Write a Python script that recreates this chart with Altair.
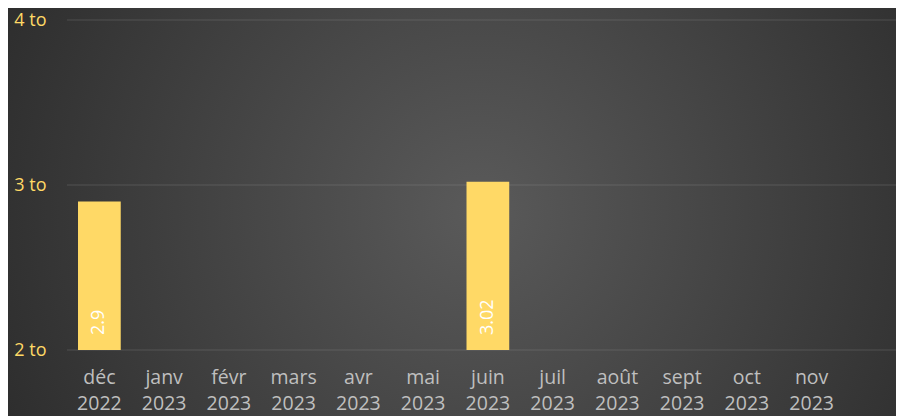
import altair as alt
import pandas as pd

months = ["déc 2022", "janv 2023", "févr 2023", "mars 2023", "avr 2023", "mai 2023",
          "juin 2023", "juil 2023", "août 2023", "sept 2023", "oct 2023", "nov 2023"]
values = [2.9, None, None, None, None, None, 3.02, None, None, None, None, None]
y_ticks = [2, 3, 4]

df = pd.DataFrame({"mois": months, "valeur": values})
bars_df = df.dropna().copy()
bars_df["label"] = bars_df["valeur"].map(lambda v: f"{v:g}")
grid_df = pd.DataFrame({"valeur": y_ticks})

FONT = "Open Sans"
W, H = 829, 330

bg = alt.Chart(pd.DataFrame({"a": [0]})).mark_rect(
    fill={
        "gradient": "radial",
        "x1": 0.53, "y1": 0.5, "r1": 0,
        "x2": 0.53, "y2": 0.5, "r2": 0.72,
        "stops": [
            {"offset": 0, "color": "#5a5a5a"},
            {"offset": 1, "color": "#232323"},
        ],
    }
).encode(
    x=alt.value(-59), x2=alt.value(W), y=alt.value(-12), y2=alt.value(396)
)

yscale = alt.Scale(domain=[2, 4], zero=False, nice=False)
yaxis = alt.Axis(
    title=None, values=y_ticks, domain=False, ticks=False, grid=False,
    labelExpr="datum.value + ' to'",
    labelFont=FONT, labelFontSize=18, labelColor="#FFD966",
    labelPadding=21, zindex=1,
)
yenc = alt.Y("valeur:Q", scale=yscale, axis=yaxis)

grid = alt.Chart(grid_df).mark_rule(color="#a0a0a0", opacity=0.25, strokeWidth=1).encode(
    y=yenc,
    x=alt.value(0), x2=alt.value(W),
)

xenc = alt.X(
    "mois:N",
    sort=months,
    scale=alt.Scale(domain=months, range=[0, 777], paddingInner=0.34, paddingOuter=0.17),
    axis=alt.Axis(
        title=None, labelAngle=0, domain=False, ticks=False, grid=False,
        labelExpr="split(datum.label, ' ')",
        labelFont=FONT, labelFontSize=19.5, labelColor="#BFBFBF",
        labelPadding=18, labelLineHeight=26, labelBaseline="top", zindex=1,
    ),
)

axes_layer = alt.Chart(df).mark_bar(opacity=0).encode(x=xenc, y=yenc)

bars = alt.Chart(bars_df).mark_bar(color="#FFD966").encode(
    x=alt.X("mois:N", sort=months, scale=alt.Scale(domain=months)),
    y=yenc,
    y2=alt.datum(2),
)

labels = alt.Chart(bars_df).mark_text(
    angle=270, align="left", baseline="middle", dx=15,
    font=FONT, fontSize=18, color="#FFFFFF",
).encode(
    x=alt.X("mois:N", sort=months, scale=alt.Scale(domain=months)),
    y=alt.datum(2),
    text="label:N",
)

chart = alt.layer(bg, grid, axes_layer, bars, labels).properties(
    width=W, height=H,
    autosize=alt.AutoSizeParams(type="none"),
    padding={"left": 59, "top": 12, "right": 0, "bottom": 66},
    background="#2b2b2b",
).configure_view(stroke=None)

chart.save("out.html", embed_options={"renderer": "svg", "actions": False})
